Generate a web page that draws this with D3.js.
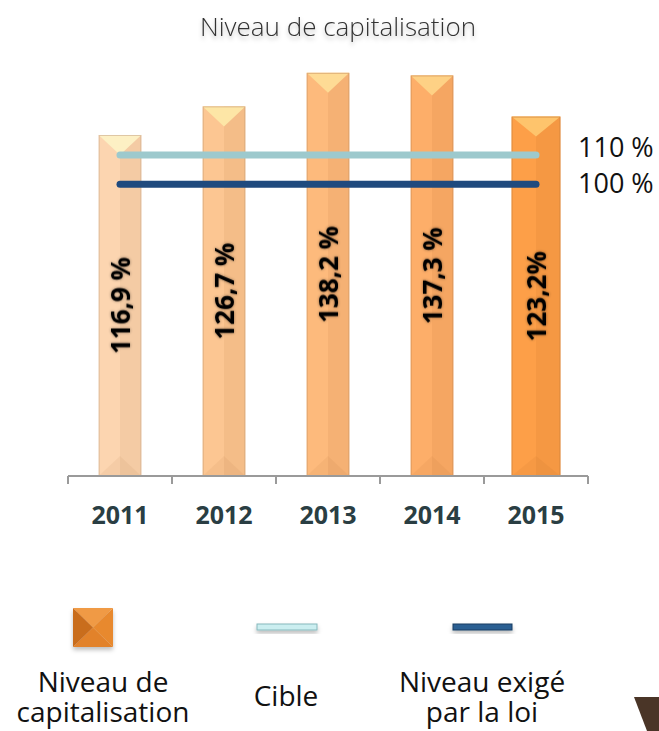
<!DOCTYPE html>
<html>
<head>
<meta charset="utf-8">
<script src="https://cdn.jsdelivr.net/npm/d3@7"></script>
<style>
  body { margin: 0; background: #fff; }
  svg { display: block; font-family: "Open Sans", sans-serif; }
</style>
</head>
<body>
<div id="chart"></div>
<script>
// data
const years = ["2011", "2012", "2013", "2014", "2015"];
const capitalisation = [116.9, 126.7, 138.2, 137.3, 123.2];
const valueLabels = ["116,9 %", "126,7 %", "138,2 %", "137,3 %", "123,2%"];
const cible = 110;
const exige = 100;
const refLabels = ["110 %", "100 %"];
const legendLabels = [["Niveau de", "capitalisation"], ["Cible"], ["Niveau exigé", "par la loi"]];

const width = 659, height = 731;

// bar colours get stronger each year
const barColors = ["#fcd5b0", "#fcc692", "#fdba7c", "#fdae69", "#fd9f48"];
const capColors = ["#fdf0c4", "#fde6a6", "#fedb95", "#fed185", "#fec46c"];

const svg = d3.select("#chart").append("svg")
    .attr("width", width)
    .attr("height", height);

const defs = svg.append("defs");
defs.append("filter").attr("id", "glow")
    .attr("x", "-20%").attr("y", "-20%").attr("width", "140%").attr("height", "140%")
  .append("feDropShadow")
    .attr("dx", 0).attr("dy", 0).attr("stdDeviation", 1.4)
    .attr("flood-color", "#000").attr("flood-opacity", 0.45);
defs.append("filter").attr("id", "soft")
    .attr("x", "-20%").attr("y", "-40%").attr("width", "140%").attr("height", "200%")
  .append("feDropShadow")
    .attr("dx", 0).attr("dy", 3).attr("stdDeviation", 2)
    .attr("flood-color", "#000").attr("flood-opacity", 0.25);

const x = d3.scaleBand()
    .domain(years)
    .range([68, 588]);

const y = d3.scaleLinear()
    .domain([0, 140])
    .range([476, 67.6]);

const color = d3.scaleOrdinal().domain(years).range(barColors);
const capColor = d3.scaleOrdinal().domain(years).range(capColors);

// title
svg.append("text")
    .attr("x", 338)
    .attr("y", 36)
    .attr("text-anchor", "middle")
    .attr("font-size", 26)
    .attr("font-weight", 300)
    .attr("fill", "#333")
    .attr("filter", "url(#soft)")
    .text("Niveau de capitalisation");

// bars
const rows = years.map((yr, i) => ({ year: yr, value: capitalisation[i], label: valueLabels[i], last: i === years.length - 1 }));
rows.forEach(d => {
  d.w = x.bandwidth() * (d.last ? 0.47 : 0.41);
  d.x0 = x(d.year) + x.bandwidth() / 2 - d.w / 2;
});

const bar = svg.append("g")
  .selectAll("g")
  .data(rows)
  .join("g");

bar.append("rect")
    .attr("x", d => d.x0)
    .attr("y", d => y(d.value))
    .attr("width", d => d.w)
    .attr("height", d => y(0) - y(d.value))
    .attr("fill", d => color(d.year));

// right half a bit darker
bar.append("rect")
    .attr("x", d => d.x0 + d.w / 2)
    .attr("y", d => y(d.value))
    .attr("width", d => d.w / 2)
    .attr("height", d => y(0) - y(d.value))
    .attr("fill", "#8a4a10")
    .attr("opacity", 0.07);

// bottom facet
bar.append("path")
    .attr("d", d => {
      const b = y(0), xc = d.x0 + d.w / 2;
      return `M${d.x0},${b}L${xc},${b - 20}L${d.x0 + d.w},${b}Z`;
    })
    .attr("fill", "#8a4a10")
    .attr("opacity", 0.06);

// top cap
bar.append("path")
    .attr("d", d => {
      const t = y(d.value), xc = d.x0 + d.w / 2;
      return `M${d.x0},${t}L${d.x0 + d.w},${t}L${xc},${t + 20}Z`;
    })
    .attr("fill", d => capColor(d.year));

// edges
bar.append("rect")
    .attr("x", d => d.x0 + 0.5)
    .attr("y", d => y(d.value) + 0.5)
    .attr("width", d => d.w - 1)
    .attr("height", d => y(0) - y(d.value) - 1)
    .attr("fill", "none")
    .attr("stroke", d => d3.color(color(d.year)).darker(0.6))
    .attr("stroke-opacity", 0.6);

bar.append("text")
    .attr("transform", d => `translate(${x(d.year) + x.bandwidth() / 2 + 1},${(y(d.value) + y(0)) / 2}) rotate(-90)`)
    .attr("text-anchor", "middle")
    .attr("dy", "0.36em")
    .attr("font-size", 26)
    .attr("font-weight", 700)
    .attr("fill", "#000")
    .attr("filter", "url(#glow)")
    .text(d => d.label);

// reference lines
const x1 = x(years[0]) + x.bandwidth() / 2;
const x2 = x(years[years.length - 1]) + x.bandwidth() / 2;
const refs = [
  { v: cible, c: "#9dc9cd", label: refLabels[0], dy: 2 },
  { v: exige, c: "#1f4a7e", label: refLabels[1], dy: 9 }
];
svg.append("g")
  .selectAll("line")
  .data(refs)
  .join("line")
    .attr("x1", x1)
    .attr("x2", x2)
    .attr("y1", d => y(d.v))
    .attr("y2", d => y(d.v))
    .attr("stroke", d => d.c)
    .attr("stroke-width", 7)
    .attr("stroke-linecap", "round");

svg.append("g")
  .selectAll("text")
  .data(refs)
  .join("text")
    .attr("x", 578)
    .attr("y", d => y(d.v) + d.dy)
    .attr("font-size", 27)
    .attr("fill", "#111")
    .text(d => d.label);

// x axis: ticks on the band edges, labels in the middle
const axis = svg.append("g").attr("transform", `translate(0,${y(0)})`);
axis.append("line")
    .attr("x1", x.range()[0]).attr("x2", x.range()[1])
    .attr("stroke", "#9a9a9a").attr("stroke-width", 2);
axis.selectAll(".edge")
  .data(years.map(d => x(d)).concat([x.range()[1]]))
  .join("line")
    .attr("class", "edge")
    .attr("x1", d => d).attr("x2", d => d)
    .attr("y1", 0).attr("y2", 8)
    .attr("stroke", "#9a9a9a").attr("stroke-width", 2);

const labels = svg.append("g")
    .attr("transform", `translate(0,${y(0)})`)
    .call(d3.axisBottom(x).tickSize(0));
labels.select(".domain").remove();
labels.selectAll("text")
    .attr("y", 48)
    .attr("dy", 0)
    .attr("font-family", "Open Sans, sans-serif")
    .attr("font-size", 25)
    .attr("font-weight", 700)
    .attr("fill", "#2a3e43");

// legend
const legend = svg.append("g");
const legendX = [103, 286, 482];

// pyramid square
const sq = legend.append("g").attr("filter", "url(#soft)");
const sx = 73, sy = 608, sw = 40, sh = 39, cx = sx + sw / 2, cy = sy + sh / 2;
sq.append("path").attr("d", `M${sx},${sy}L${sx + sw},${sy}L${cx},${cy}Z`).attr("fill", "#f09a44");
sq.append("path").attr("d", `M${sx + sw},${sy}L${sx + sw},${sy + sh}L${cx},${cy}Z`).attr("fill", "#e8892e");
sq.append("path").attr("d", `M${sx},${sy + sh}L${sx + sw},${sy + sh}L${cx},${cy}Z`).attr("fill", "#e2822a");
sq.append("path").attr("d", `M${sx},${sy}L${sx},${sy + sh}L${cx},${cy}Z`).attr("fill", "#c96d1f");

legend.append("rect")
    .attr("x", 257).attr("y", 624).attr("width", 60).attr("height", 6)
    .attr("fill", "#cbeef0").attr("stroke", "#86b8bc").attr("stroke-width", 1)
    .attr("filter", "url(#soft)");
legend.append("rect")
    .attr("x", 453).attr("y", 624).attr("width", 59).attr("height", 6)
    .attr("fill", "#2b5f92").attr("stroke", "#173d63").attr("stroke-width", 1)
    .attr("filter", "url(#soft)");

legend.selectAll("text")
  .data(legendLabels)
  .join("text")
    .attr("x", (d, i) => legendX[i])
    .attr("y", d => d.length === 1 ? 706 : 692)
    .attr("text-anchor", "middle")
    .attr("font-size", 28)
    .attr("fill", "#111")
  .selectAll("tspan")
  .data(d => d)
  .join("tspan")
    .attr("x", function() { return this.parentNode.getAttribute("x"); })
    .attr("dy", (d, i) => i ? 30 : 0)
    .text(d => d);

// dark corner shape at bottom right
svg.append("path")
    .attr("d", "M634,697L659,697L659,731L647,731Z")
    .attr("fill", "#4a3527");
</script>
</body>
</html>
